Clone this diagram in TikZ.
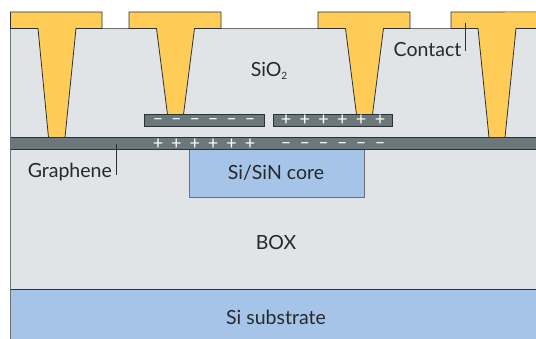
\documentclass[tikz,border=0pt]{standalone}
\usepackage{xcolor}
\usepackage{fontspec}
\setmainfont{Lato}
\usepackage{tikz}
\usetikzlibrary{positioning}
\definecolor{oxidecol}{HTML}{E0E4E7}
\definecolor{siliconcol}{HTML}{A5C4E7}
\definecolor{contactcol}{HTML}{FFCD57}
\definecolor{graphenecol}{HTML}{6C777C}
\definecolor{edgecol}{HTML}{2B3236}
\definecolor{textcol}{HTML}{26292B}

\begin{document}
\begin{tikzpicture}[
  x=1pt, y=-1pt, font=\fontsize{19.5}{21}\selectfont, text=textcol,
  layer/.style={draw=edgecol, line width=0.7pt},
  softlayer/.style={draw=edgecol!70, line width=0.9pt},
  metal/.style={fill=contactcol, draw=edgecol, line width=0.8pt},
  charge/.style={text=white, font=\fontsize{18}{18}\selectfont, inner sep=0pt, anchor=base},
  leader/.style={draw=edgecol, line width=0.7pt}
]
\useasboundingbox (0,0) rectangle (536,339);

\fill[oxidecol] (10.5,28.5) rectangle (536,289.5);
\draw[softlayer] (10.5,339) -- (10.5,28.5) -- (536,28.5);
\fill[siliconcol] (10.5,289.5) rectangle (536,339);
\draw[softlayer] (10.5,289.5) -- (10.5,339);
\draw[layer] (10.5,289.5) -- (536,289.5);

\draw[softlayer, fill=siliconcol] (189,149) rectangle (364,197);

\draw[metal] (10.5,12) -- (102,12) -- (102,28.5) -- (76,28.5) -- (65,137.5) -- (48.5,137.5) -- (38,28.5) -- (10.5,28.5) -- cycle;
\draw[metal] (129,12) -- (221,12) -- (221,28.5) -- (194.5,28.5) -- (183.5,114.5) -- (167.5,114.5) -- (156.5,28.5) -- (129,28.5) -- cycle;
\draw[metal] (318,12) -- (410,12) -- (410,28.5) -- (383.5,28.5) -- (372.5,114.5) -- (356.5,114.5) -- (345.5,28.5) -- (318,28.5) -- cycle;
\draw[metal] (536,12) -- (451,12) -- (451,28.5) -- (478,28.5) -- (489,137.5) -- (505,137.5) -- (516,28.5) -- (536,28.5);
\fill[contactcol] (505,28) -- (516,28) -- (536,28) -- (536,12.5) -- (505,12.5) -- cycle;

\fill[graphenecol] (10.5,137.5) rectangle (536,149);
\draw[layer] (10.5,137.5) -- (536,137.5);
\draw[layer] (10.5,149) -- (536,149);
\draw[layer, fill=graphenecol] (144.5,114.5) rectangle (264,126.5);
\draw[layer, fill=graphenecol] (273.5,114.5) rectangle (392.5,126.5);

\foreach \xpos in {158,176.4,194.8,213.2,231.6,250} {
  \node[charge] at (\xpos,125) {--};
  \node[charge] at (\xpos,149.5) {+};
}
\foreach \xpos in {286,304.8,323.6,342.4,361.2,380} {
  \node[charge] at (\xpos,126) {+};
  \node[charge] at (\xpos,148.3) {--};
}

\node (sio) at (269,70.5) {SiO\raisebox{-3pt}{\fontsize{10}{10}\selectfont 2}};
\node (core) at (276,172.5) {Si/SiN core};
\node (box) at (276,243) {BOX};
\node (substrate) at (276,317) {Si substrate};
\node[inner sep=0pt, anchor=east] (contact) at (461.5,50) {Contact};
\node[inner sep=0pt, anchor=east] (graphene) at (112,172) {Graphene};

\coordinate (contactend) at (465.5,23);
\coordinate (contactfoot) at (465.5,51);
\coordinate (grapheneend) at (116,144);
\coordinate (graphenefoot) at (116,175);
\draw[leader] (contactfoot) -- (contactend);
\draw[leader] (graphenefoot) -- (grapheneend);
\end{tikzpicture}
\end{document}
